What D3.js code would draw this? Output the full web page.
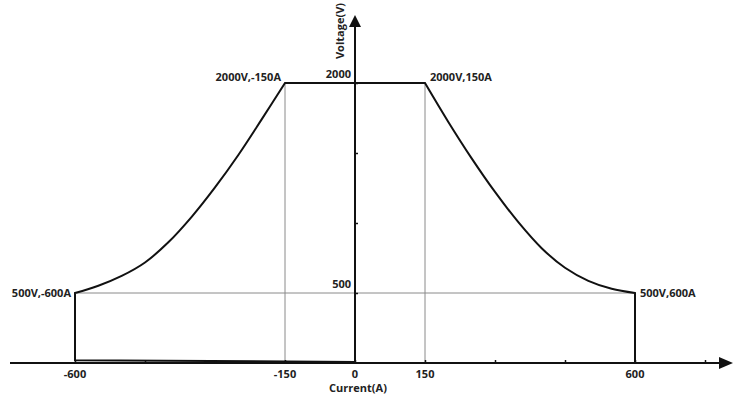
<!DOCTYPE html>
<html>
<head>
<meta charset="utf-8">
<script src="https://cdn.jsdelivr.net/npm/d3@7"></script>
<style>
  html, body { margin: 0; padding: 0; background: #fff; }
  svg { display: block; }
  text { font-family: "Open Sans", "Noto Sans", sans-serif; font-weight: bold; fill: #222; }
</style>
</head>
<body>
<svg id="chart" width="740" height="396"></svg>
<script>
// ---- data ----
const xTickValues = [-600, -450, -300, -150, 0, 150, 300, 450, 600, 750];
const xTickLabels = [-600, -150, 0, 150, 600];
const yTickValues = [500, 1000, 1500, 2000];
const yTickLabels = [500, 2000];

// left constant-power curve (current A, voltage V)
const leftCurveI = [-600, -550, -500, -450, -400, -350, -300, -250, -200, -150];
const leftCurveV = [500, 552, 622, 718, 862, 1044, 1254, 1486, 1740, 2000];
// right constant-power curve
const rightCurveI = [150, 200, 250, 300, 350, 400, 450, 500, 550, 600];
const rightCurveV = [2000, 1722, 1462, 1222, 1006, 820, 680, 587, 530, 500];
// bottom-left edge
const bottomEdgeI = [0, -600];
const bottomEdgeV = [8, 20];

const cornerLabels = [
  { i: -150, v: 2000, text: "2000V,-150A", side: "left" },
  { i: 150, v: 2000, text: "2000V,150A", side: "right" },
  { i: -600, v: 500, text: "500V,-600A", side: "left" },
  { i: 600, v: 500, text: "500V,600A", side: "right" }
];
const gridCurrents = [-150, 150];
const gridVoltage = 500;
const xTitle = "Current(A)";
const yTitle = "Voltage(V)";

// ---- drawing ----
const svg = d3.select("#chart");
const x = d3.scaleLinear().domain([-600, 600]).range([75, 635]);
const y = d3.scaleLinear().domain([0, 2000]).range([363, 83]);

const xAxisLeft = 10, xAxisRight = 733, yAxisTop = 15;

// grid lines
svg.selectAll(".vgrid").data(gridCurrents).enter().append("line")
  .attr("x1", d => x(d)).attr("x2", d => x(d))
  .attr("y1", y(2000)).attr("y2", y(0))
  .attr("stroke", "#8a8a8a").attr("stroke-width", 1);
svg.append("line")
  .attr("x1", x(-600)).attr("x2", x(600))
  .attr("y1", y(gridVoltage)).attr("y2", y(gridVoltage))
  .attr("stroke", "#8a8a8a").attr("stroke-width", 1);

// boundary path
const lineGen = d3.line().x(d => x(d[0])).y(d => y(d[1]));
const curveGen = d3.line().x(d => x(d[0])).y(d => y(d[1])).curve(d3.curveCatmullRom.alpha(0.5));

const leftPts = leftCurveI.map((d, k) => [d, leftCurveV[k]]);
const rightPts = rightCurveI.map((d, k) => [d, rightCurveV[k]]);
const bottomPts = bottomEdgeI.map((d, k) => [d, bottomEdgeV[k]]);

const pathD =
  lineGen(bottomPts.concat([[-600, 500]])) +
  curveGen(leftPts).replace(/^M/, "L") +
  lineGen([[-150, 2000], [150, 2000]]).replace(/^M/, "L") +
  curveGen(rightPts).replace(/^M/, "L") +
  lineGen([[600, 500], [600, 0]]).replace(/^M/, "L");

svg.append("path").attr("d", pathD)
  .attr("fill", "none").attr("stroke", "#111").attr("stroke-width", 2)
  .attr("stroke-linejoin", "miter");

// x axis
svg.append("line")
  .attr("x1", xAxisLeft).attr("x2", xAxisRight - 10)
  .attr("y1", y(0)).attr("y2", y(0))
  .attr("stroke", "#111").attr("stroke-width", 2);
svg.append("path")
  .attr("d", `M${xAxisRight},${y(0)} L${xAxisRight - 14},${y(0) - 6} L${xAxisRight - 14},${y(0) + 6} Z`)
  .attr("fill", "#111");
const xAxis = d3.axisBottom(x).tickValues(xTickValues).tickSize(-3).tickFormat("");
const gx = svg.append("g").attr("transform", `translate(0,${y(0)})`).call(xAxis);
gx.select(".domain").remove();
gx.selectAll(".tick line").attr("stroke", "#111").attr("stroke-width", 1.5);

svg.selectAll(".xlab").data(xTickLabels).enter().append("text")
  .attr("x", d => x(d)).attr("y", 378)
  .attr("text-anchor", "middle").attr("font-size", 11)
  .text(d => d);
svg.append("text").attr("x", 358).attr("y", 392)
  .attr("text-anchor", "middle").attr("font-size", 11).text(xTitle);

// y axis
svg.append("line")
  .attr("x1", x(0)).attr("x2", x(0))
  .attr("y1", y(0) + 1).attr("y2", yAxisTop + 10)
  .attr("stroke", "#111").attr("stroke-width", 2);
svg.append("path")
  .attr("d", `M${x(0)},${yAxisTop} L${x(0) - 6},${yAxisTop + 12} L${x(0) + 6},${yAxisTop + 12} Z`)
  .attr("fill", "#111");
const yAxis = d3.axisRight(y).tickValues(yTickValues).tickSize(3).tickFormat("");
const gy = svg.append("g").attr("transform", `translate(${x(0)},0)`).call(yAxis);
gy.select(".domain").remove();
gy.selectAll(".tick line").attr("stroke", "#111").attr("stroke-width", 1.5);

svg.selectAll(".ylab").data(yTickLabels).enter().append("text")
  .attr("x", 351).attr("y", d => y(d) - 5)
  .attr("text-anchor", "end").attr("font-size", 11)
  .text(d => d);
svg.append("text")
  .attr("transform", "translate(344,31) rotate(-90)")
  .attr("text-anchor", "middle").attr("font-size", 11).text(yTitle);

// corner labels
svg.selectAll(".clab").data(cornerLabels).enter().append("text")
  .attr("x", d => d.side === "left" ? x(d.i) - 4 : x(d.i) + 5)
  .attr("y", d => y(d.v) - (d.v === 2000 ? 2 : -4))
  .attr("text-anchor", d => d.side === "left" ? "end" : "start")
  .attr("font-size", 11)
  .text(d => d.text);
</script>
</body>
</html>
